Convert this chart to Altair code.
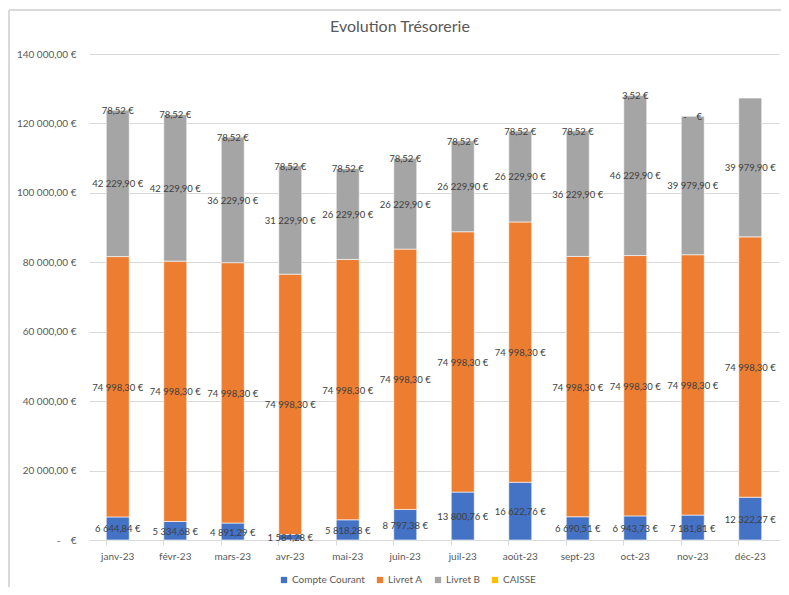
import altair as alt
import pandas as pd

months = ["janv-23", "févr-23", "mars-23", "avr-23", "mai-23", "juin-23",
          "juil-23", "août-23", "sept-23", "oct-23", "nov-23", "déc-23"]
series = ["Compte Courant", "Livret A", "Livret B", "CAISSE"]
colors = ["#4472C4", "#ED7D31", "#A5A5A5", "#FFC000"]

compte_courant = [6644.84, 5334.68, 4891.29, 1584.28, 5818.28, 8797.38,
                  13800.76, 16622.76, 6690.51, 6943.73, 7181.81, 12322.27]
livret_a = [74998.30, 74998.30, 74998.30, 74998.30, 74998.30, 74998.30,
            74998.30, 74998.30, 74998.30, 74998.30, 74998.30, 74998.30]
livret_b = [42229.90, 42229.90, 36229.90, 31229.90, 26229.90, 26229.90,
            26229.90, 26229.90, 36229.90, 46229.90, 39979.90, 39979.90]
caisse = [78.52, 78.52, 78.52, 78.52, 78.52, 78.52,
          78.52, 78.52, 78.52, 3.52, 0.0, None]

y_ticks = [0, 20000, 40000, 60000, 80000, 100000, 120000, 140000]


def fr_money(v):
    if v == 0:
        return "-\u00a0\u00a0\u00a0\u00a0€"
    s = f"{v:,.2f}".replace(",", "#").replace(".", ",").replace("#", "\u00a0")
    return s + "\u00a0€"


rows = []
for si, (name, vals) in enumerate(zip(series, [compte_courant, livret_a, livret_b, caisse])):
    for m, v in zip(months, vals):
        if v is None:
            continue
        rows.append({"month": m, "series": name, "order": si, "value": v, "label": fr_money(v)})
df = pd.DataFrame(rows)

FONT = "Lato"
GREY_TXT = "#595959"

base = alt.Chart(df).transform_stack(
    stack="value", groupby=["month"], as_=["y0", "y1"],
    sort=[alt.SortField("order", order="ascending")]
).transform_calculate(mid="(datum.y0 + datum.y1) / 2")

xenc = alt.X("month:N", sort=months, title=None,
             scale=alt.Scale(paddingInner=0.6, paddingOuter=0.3),
             axis=alt.Axis(labelAngle=0, labelFont=FONT, labelFontSize=10, labelColor=GREY_TXT,
                           domainColor="#d9d9d9", tickColor="#d9d9d9", tickSize=5,
                           bandPosition=0, labelPadding=6, grid=False))

yscale = alt.Scale(domain=[0, 140000], nice=False)

bars = base.mark_bar(stroke="white", strokeWidth=0.6).encode(
    x=xenc,
    y=alt.Y("y0:Q", scale=yscale, title=None,
            axis=alt.Axis(values=y_ticks, labelFont=FONT, labelFontSize=10, labelColor=GREY_TXT,
                          gridColor="#d9d9d9", domain=False, ticks=False, labelPadding=13,
                          labelExpr="datum.value == 0 ? '-\u00a0\u00a0\u00a0\u00a0€' : replace(replace(replace(format(datum.value, ',.2f'), regexp(',', 'g'), '#'), '.', ','), regexp('#', 'g'), '\u00a0') + '\u00a0€'")),
    y2="y1:Q",
    color=alt.Color("series:N", sort=series,
                    scale=alt.Scale(domain=series, range=colors),
                    legend=alt.Legend(title=None, orient="none", legendX=190, legendY=521,
                                      direction="horizontal", symbolType="square",
                                      symbolSize=40, symbolStrokeWidth=0,
                                      labelFont=FONT, labelFontSize=10, labelColor=GREY_TXT,
                                      columnPadding=10, labelOffset=3)),
)

labels = base.mark_text(font=FONT, fontSize=9.5, color="#404040", baseline="middle", dy=1).encode(
    x=alt.X("month:N", sort=months),
    y=alt.Y("mid:Q", scale=yscale),
    text="label:N",
)

frame = alt.Chart(df).mark_rule(color="#d9d9d9", strokeWidth=1, clip=False).encode(
    x=alt.value(-80), x2=alt.value(700), y=alt.value(-44)
)
frame2 = alt.Chart(df).mark_rule(color="#d9d9d9", strokeWidth=1, clip=False).encode(
    x=alt.value(-80), y=alt.value(-44), y2=alt.value(540)
)

chart = alt.layer(frame, frame2, bars, labels).properties(
    width=690, height=486,
    autosize=alt.AutoSizeParams(type="none"),
    padding={"left": 81, "top": 46, "right": 2, "bottom": 47},
    title=alt.TitleParams("Evolution Trésorerie", font=FONT, fontSize=16, fontWeight="normal",
                          color=GREY_TXT, anchor="middle", frame="group", dx=-34, offset=-25),
).configure_view(stroke=None)

chart.save("out.html", embed_options={"renderer": "svg", "actions": False})
